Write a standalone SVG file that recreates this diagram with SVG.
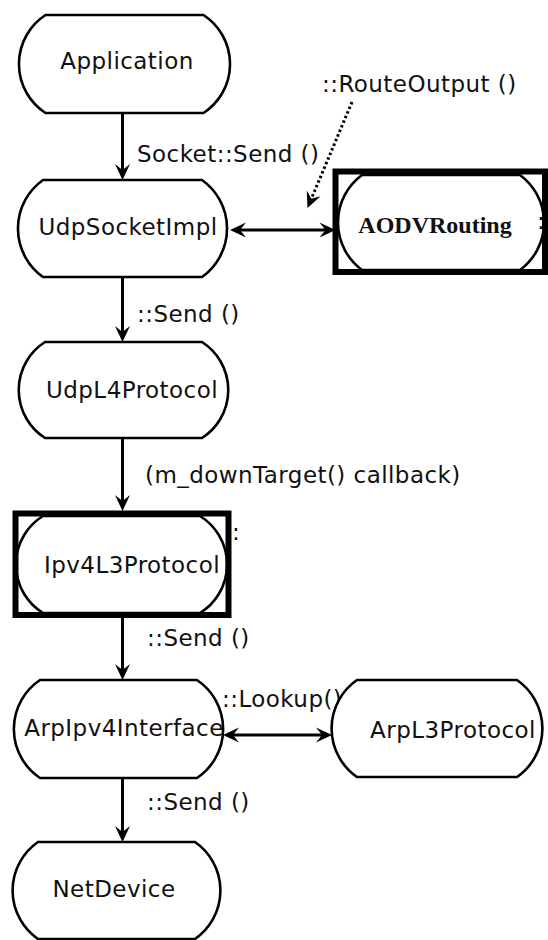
<svg xmlns="http://www.w3.org/2000/svg" width="548" height="940" viewBox="0 0 548 940">
<style>
.node{fill:#fff;stroke:#000;stroke-width:2.6}
.box{fill:none;stroke:#000;stroke-width:6}
.t{font-family:"DejaVu Sans",sans-serif;font-size:23px;fill:#111;letter-spacing:0.45px}
.ts{font-family:"Liberation Serif",serif;font-size:24px;font-weight:bold;fill:#111}
.c{stroke:#000;stroke-width:3;fill:none}
.d{stroke:#000;stroke-width:3;fill:none;stroke-dasharray:2.5 2.5}
</style>
<defs>
<marker id="ah" markerUnits="userSpaceOnUse" viewBox="-17 -8 18 16" refX="-6" refY="0" markerWidth="18" markerHeight="16" orient="auto-start-reverse">
<path d="M0,0 L-16,-7.5 L-10,0 L-16,7.5 Z" fill="#000"/>
</marker>
</defs>
<rect width="548" height="940" fill="#fff"/>
<g id="connectors">
<line class="c" x1="122.5" y1="113" x2="122.5" y2="174" marker-end="url(#ah)"/>
<line class="c" x1="122.5" y1="277" x2="122.5" y2="336" marker-end="url(#ah)"/>
<line class="c" x1="122.5" y1="438" x2="122.5" y2="505" marker-end="url(#ah)"/>
<line class="c" x1="122.5" y1="618" x2="122.5" y2="674" marker-end="url(#ah)"/>
<line class="c" x1="122.5" y1="778" x2="122.5" y2="836" marker-end="url(#ah)"/>
<line class="c" x1="236" y1="230" x2="329.5" y2="230" marker-start="url(#ah)" marker-end="url(#ah)"/>
<line class="c" x1="229" y1="735" x2="326" y2="735" marker-start="url(#ah)" marker-end="url(#ah)"/>
<line class="d" x1="352" y1="102" x2="309.8" y2="202.5" marker-end="url(#ah)"/>
<text class="t" x="137" y="162">Socket::Send ()</text>
<text class="t" x="137" y="322">::Send ()</text>
<text class="t" x="145" y="483">(m_downTarget() callback)</text>
<text class="t" x="147" y="646">::Send ()</text>
<text class="t" x="147" y="810">::Send ()</text>
<text class="t" x="322" y="92">::RouteOutput ()</text>
<text class="t" x="222" y="707">::Lookup()</text>
</g>
<g id="Application">
<path class="node" d="M45.5,15 H203.5 A58.5,58.5 0 0 1 203.5,113 H45.5 A58.5,58.5 0 0 1 45.5,15 Z"/>
<text class="t" x="127" y="69" text-anchor="middle">Application</text>
</g>
<g id="UdpSocketImpl">
<path class="node" d="M43,180 H202 A59.5,59.5 0 0 1 202,277 H43 A59.5,59.5 0 0 1 43,180 Z"/>
<text class="t" x="128" y="235" text-anchor="middle">UdpSocketImpl</text>
</g>
<g id="AODVRouting">
<path class="node" d="M362,175 H520 A59,59 0 0 1 520,270 H362 A59,59 0 0 1 362,175 Z"/>
<rect class="box" x="335.5" y="171.5" width="209.5" height="100.5"/>
<text class="ts" x="435" y="233" text-anchor="middle">AODVRouting</text>
<text class="t" x="537" y="229">:</text>
</g>
<g id="UdpL4Protocol">
<path class="node" d="M45,342 H202 A57,57 0 0 1 202,438 H45 A57,57 0 0 1 45,342 Z"/>
<text class="t" x="132" y="398" text-anchor="middle">UdpL4Protocol</text>
</g>
<g id="Ipv4L3Protocol">
<path class="node" d="M43,516 H200 A57,57 0 0 1 200,613 H43 A57,57 0 0 1 43,516 Z"/>
<rect class="box" x="15.5" y="513.5" width="213" height="101.5"/>
<text class="t" x="132" y="573" text-anchor="middle">Ipv4L3Protocol</text>
<text class="t" x="232" y="540">:</text>
</g>
<g id="ArpIpv4Interface">
<path class="node" d="M40,680 H197 A59,59 0 0 1 197,778 H40 A59,59 0 0 1 40,680 Z"/>
<text class="t" x="124" y="736" text-anchor="middle">ArpIpv4Interface</text>
</g>
<g id="ArpL3Protocol">
<path class="node" d="M357,680 H517 A59,59 0 0 1 517,777 H357 A59,59 0 0 1 357,680 Z"/>
<text class="t" x="453" y="738" text-anchor="middle">ArpL3Protocol</text>
</g>
<g id="NetDevice">
<path class="node" d="M38,842 H195 A59,59 0 0 1 195,939 H38 A59,59 0 0 1 38,842 Z"/>
<text class="t" x="114" y="897" text-anchor="middle">NetDevice</text>
</g>
</svg>
